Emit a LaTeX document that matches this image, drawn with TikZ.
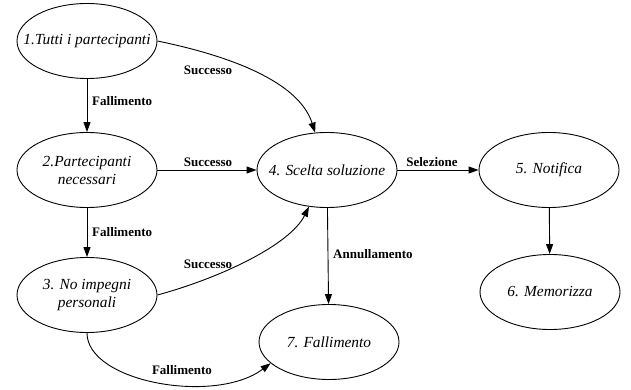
\documentclass[tikz,border=0pt]{standalone}
\usepackage{fontspec}
\setmainfont{Liberation Serif}
\usetikzlibrary{shapes.geometric,arrows.meta}
\tikzset{
  state/.style={draw, ellipse, line width=0.9pt, minimum width=140pt, minimum height=75pt,
    inner sep=0pt},
  statetext/.style={inner sep=0pt, align=center, font=\fontsize{15.4}{18}\selectfont\itshape},
  lab/.style={inner sep=0pt, font=\fontsize{13}{15}\selectfont\bfseries},
  edge/.style={line width=0.9pt, -{Triangle[length=10pt,width=7pt]}}
}
\begin{document}
\begin{tikzpicture}[x=1pt,y=-1pt]
\useasboundingbox (0,0) rectangle (631,390);

% states: fixed-size ellipses, text set on top so it does not widen the outline
\node[state, label={[statetext]center:1.Tutti i partecipanti}] (n1) at (87,41) {};
\node[state, label={[statetext]center:{2.Partecipanti\\necessari}}] (n2) at (87,170) {};
\node[state, label={[statetext]center:{3. No impegni\\personali}}] (n3) at (87,295) {};
\node[state, label={[statetext]center:4. Scelta soluzione}] (n4) at (327,170) {};
\node[state, label={[statetext]center:5. Notifica}] (n5) at (549,170) {};
\node[state, label={[statetext]center:6. Memorizza}] (n6) at (550,292) {};
\node[state, label={[statetext]center:7. Fallimento}] (n7) at (329,342) {};

% transitions
\draw[edge] (n1) -- (n2);
\draw[edge] (n2) -- (n3);
\draw[edge] (n2) -- (n4);
\draw[edge] (n4) -- (n5);
\draw[edge] (n5) -- (n6);
\draw[edge] (n4) -- (n7);
\draw[edge] (n1.east) .. controls (240,58) and (300,85) .. (n4);
\draw[edge] (n3.east) .. controls (220,278) and (290,245) .. (n4);
\draw[edge] (n3.south) .. controls (87,382) and (215,405) .. (n7.200);

% transition labels
\node[lab] (l12) [anchor=west] at (92,101) {Fallimento};
\node[lab] (l14) at (208,70) {Successo};
\node[lab] (l24) at (208,162) {Successo};
\node[lab] (l23) [anchor=west] at (92,232) {Fallimento};
\node[lab] (l34) at (208,264) {Successo};
\node[lab] (l45) at (432,162) {Selezione};
\node[lab] (l47) [anchor=west] at (333,254) {Annullamento};
\node[lab] (l37) at (182,370) {Fallimento};
\end{tikzpicture}
\end{document}
